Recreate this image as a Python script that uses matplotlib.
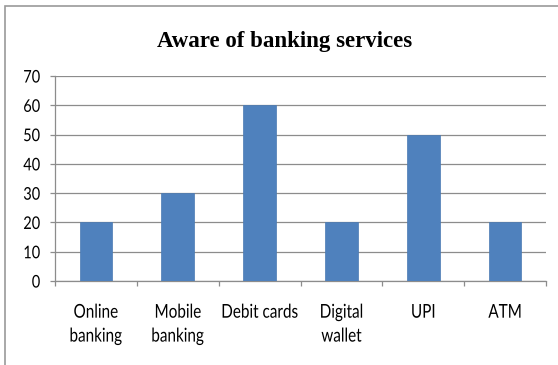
import matplotlib.pyplot as plt
from matplotlib.patches import Rectangle
from matplotlib.patheffects import AbstractPathEffect
from matplotlib.transforms import Affine2D
import numpy as np

services = ['Online\nbanking', 'Mobile\nbanking', 'Debit cards', 'Digital\nwallet', 'UPI', 'ATM']
aware = [20, 30, 60, 20, 50, 20]
y_ticks = [0, 10, 20, 30, 40, 50, 60, 70]

bar_color = '#4F81BD'
grid_color = '#8c8c8c'
label_font = 'Lato'


class Stretch(AbstractPathEffect):
    """Draw text taller than its font, scaling y about a point of each line."""

    def __init__(self, sy, anchor=0.0):
        super().__init__()
        self.sy = sy
        self.anchor = anchor  # height in glyph units (100 = 1 em)

    def draw_path(self, renderer, gc, tpath, affine, rgbFace=None):
        x0, y0 = affine.transform((0, self.anchor))
        stretch = Affine2D().translate(-x0, -y0).scale(1, self.sy).translate(x0, y0)
        renderer.draw_path(gc, tpath, affine + stretch, rgbFace)


fig = plt.figure(figsize=(5.58, 3.65), dpi=100)

# grey frame round the chart (open at right and bottom)
fig.patches.append(Rectangle((5 / 558, -0.1), 1.2, 1 - 6 / 365 + 0.1,
                             transform=fig.transFigure, fill=False,
                             edgecolor='#9a9a9a', linewidth=1.2))

ax = fig.add_axes([55 / 558, 1 - 281 / 365, (546 - 55) / 558, (281 - 76) / 365])

x = np.arange(len(services))
ax.bar(x, aware, width=0.4, color=bar_color, edgecolor='#4a7ab3', linewidth=0.5, zorder=3)

ax.set_xlim(-0.5, len(services) - 0.5)
ax.set_ylim(0, 70)
ax.set_yticks(y_ticks)
ax.set_yticklabels([str(v) for v in y_ticks], fontsize=10.5, family=label_font)
ax.yaxis.grid(True, color=grid_color, linewidth=0.9, zorder=0)

ax.set_xticks(x)
ax.set_xticklabels(services, fontsize=11, family=label_font, linespacing=1.9)
ax.set_xticks(np.arange(len(services) + 1) - 0.5, minor=True)
ax.tick_params(axis='x', which='major', length=0, pad=18.5)
ax.tick_params(axis='x', which='minor', length=3.6, color=grid_color, width=0.9)
ax.tick_params(axis='y', length=3.6, color=grid_color, width=0.9, pad=7)

for lbl in ax.get_xticklabels():
    lbl.set_path_effects([Stretch(1.25)])
for lbl in ax.get_yticklabels():
    lbl.set_path_effects([Stretch(1.2, anchor=36)])

for side in ['top', 'right']:
    ax.spines[side].set_visible(False)
ax.spines['left'].set_color(grid_color)
ax.spines['bottom'].set_color(grid_color)
ax.spines['left'].set_linewidth(0.9)
ax.spines['bottom'].set_linewidth(0.9)

fig.text(285 / 558, 1 - 47 / 365, 'Aware of banking services', ha='center', va='baseline',
         fontsize=16.5, fontweight='bold', family='Liberation Serif')

fig.savefig('out.png', dpi=100)
